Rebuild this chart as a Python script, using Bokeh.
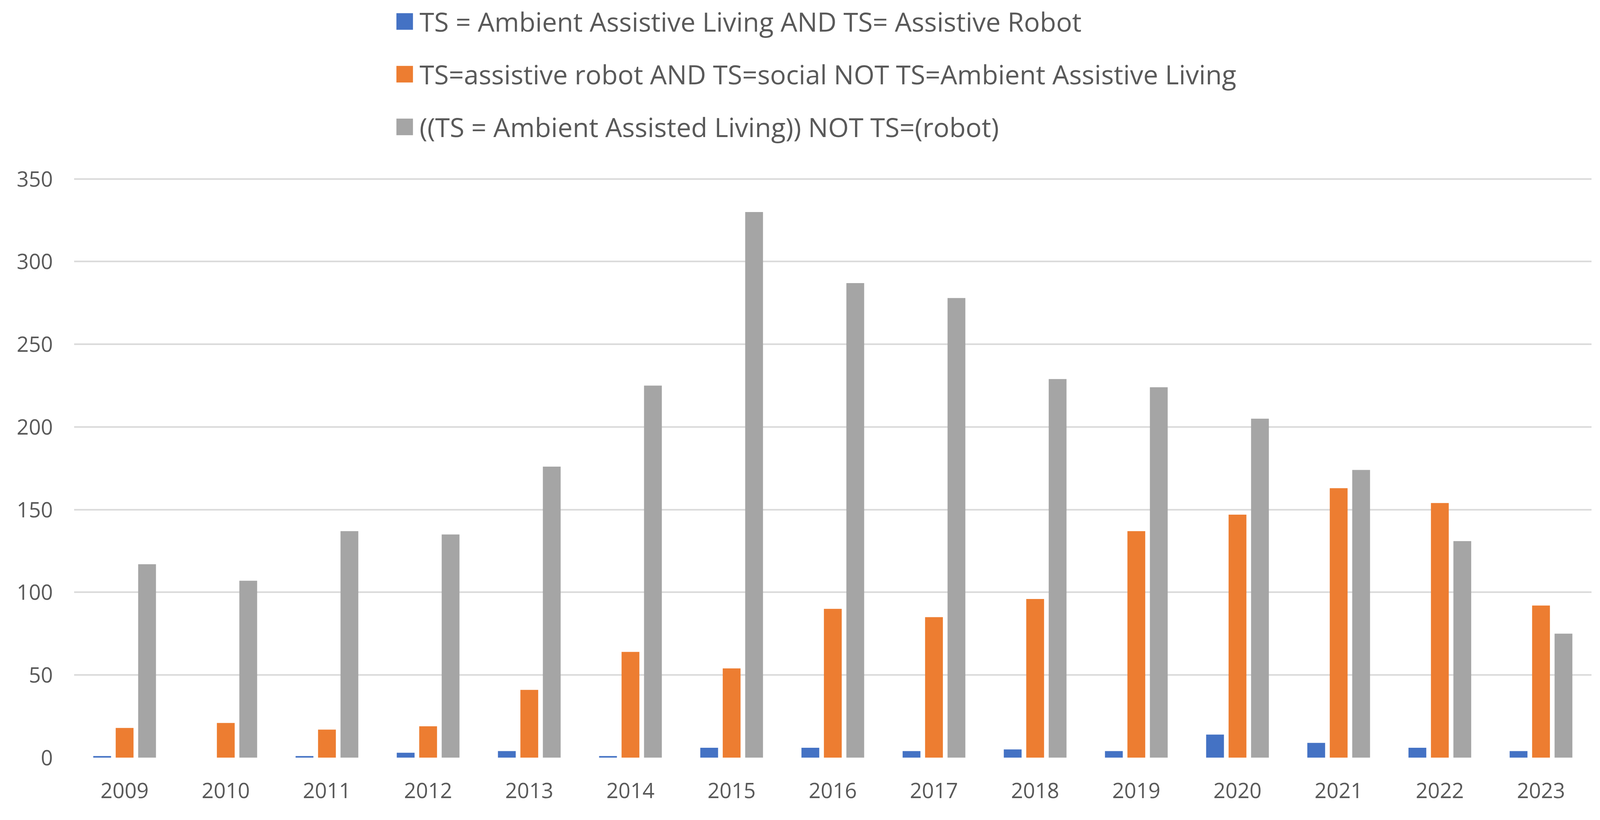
from bokeh.plotting import figure
from bokeh.models import (ColumnDataSource, FactorRange, FixedTicker, Legend,
                          LegendItem, Range1d)
from bokeh.transform import dodge
from bokeh.embed import file_html
from bokeh.resources import INLINE

years = ["2009", "2010", "2011", "2012", "2013", "2014", "2015", "2016",
         "2017", "2018", "2019", "2020", "2021", "2022", "2023"]
aal_and_robot = [1, 0, 1, 3, 4, 1, 6, 6, 4, 5, 4, 14, 9, 6, 4]
robot_social = [18, 21, 17, 19, 41, 64, 54, 90, 85, 96, 137, 147, 163, 154, 92]
aal_not_robot = [117, 107, 137, 135, 176, 225, 330, 287, 278, 229, 224, 205, 174, 131, 75]
series_labels = [
    "TS = Ambient Assistive Living AND TS= Assistive Robot",
    "TS=assistive robot AND TS=social NOT TS=Ambient Assistive Living",
    "((TS = Ambient Assisted Living)) NOT TS=(robot)",
]
y_ticks = [0, 50, 100, 150, 200, 250, 300, 350]

colors = ["#4472C4", "#ED7D31", "#A5A5A5"]
FONT = "Open Sans"
TXT = "#595959"

src = ColumnDataSource(data=dict(years=years, a=aal_and_robot,
                                 b=robot_social, c=aal_not_robot))

W, H = 4096, 2084
frame_bottom = 1940          # px from top of figure where value 0 sits
top_of_axis = 457.7          # px from top where value 350 sits
y_end = 350 * frame_bottom / (frame_bottom - top_of_axis)

p = figure(width=W, height=H, output_backend="svg", toolbar_location=None,
           x_range=FactorRange(factors=years, range_padding=0),
           y_range=Range1d(0, y_end),
           min_border_left=189, min_border_right=22,
           min_border_top=0, min_border_bottom=H - frame_bottom)
p.outline_line_color = None
p.background_fill_color = "white"
p.border_fill_color = "white"

bw = 0.176
off = 0.222
cols = ["a", "b", "c"]
rends = []
for i, (col, color) in enumerate(zip(cols, colors)):
    r = p.vbar(x=dodge("years", (i - 1) * off, range=p.x_range), top=col,
               bottom=0, width=bw, source=src, fill_color=color,
               line_color=None)
    rends.append(r)

p.xgrid.grid_line_color = None
p.ygrid.grid_line_color = "#D9D9D9"
p.ygrid.grid_line_width = 4
p.yaxis.ticker = FixedTicker(ticks=y_ticks)

for ax in (p.xaxis[0], p.yaxis[0]):
    ax.axis_line_color = None
    ax.major_tick_line_color = None
    ax.minor_tick_line_color = None
    ax.major_label_text_font = FONT
    ax.major_label_text_font_size = "54px"
    ax.major_label_text_color = TXT

p.yaxis.major_label_standoff = 48
p.xaxis.major_label_standoff = 58

legend = Legend(
    items=[LegendItem(label=lab, renderers=[r]) for lab, r in zip(series_labels, rends)],
    location=(820, frame_bottom - 4 - 370), orientation="vertical",
    glyph_width=53, glyph_height=53, label_standoff=12,
    label_height=100, spacing=35, padding=0, margin=0,
    border_line_color=None, background_fill_alpha=0,
    label_text_font=FONT, label_text_font_size="68px", label_text_color=TXT,
)
p.add_layout(legend, "center")

open("out.html", "w").write(file_html(p, INLINE))
